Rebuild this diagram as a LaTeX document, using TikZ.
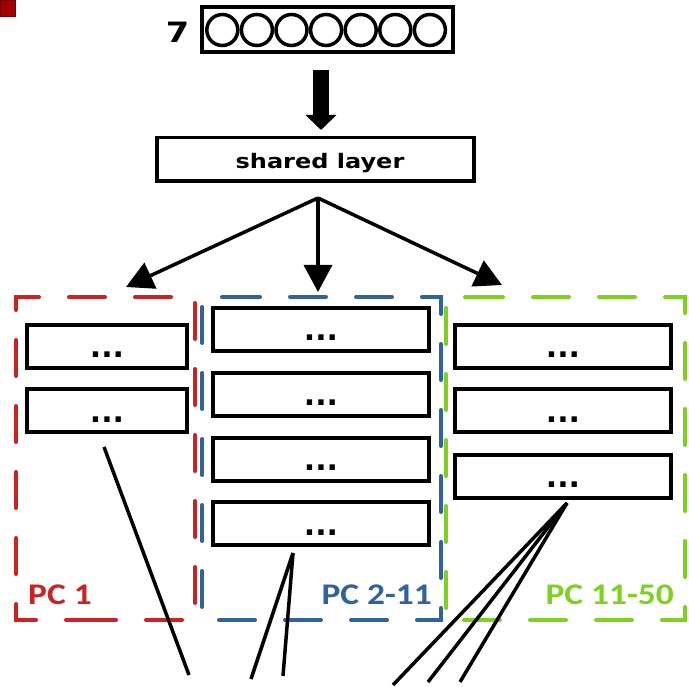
\documentclass[tikz,border=0pt]{standalone}
\usepackage{fontspec}
\usetikzlibrary{arrows.meta}
\newfontfamily\dvfont[FakeStretch=1.2]{DejaVu Sans}
\newfontfamily\dotfont{DejaVu Sans}
\newfontfamily\pcfont[FakeStretch=1.18]{Carlito}
\definecolor{pcred}{RGB}{204,34,34}
\definecolor{pcblue}{RGB}{46,99,158}
\definecolor{pcgreen}{RGB}{125,210,30}
\definecolor{sqred}{RGB}{165,0,0}
\begin{document}
\begin{tikzpicture}[x=1pt,y=-1pt,
  box/.style={draw, line width=4pt, inner sep=0pt, outer sep=0pt,
    font=\dotfont\bfseries\fontsize{30}{30}\selectfont, text height=23pt, text depth=0pt},
  smallbox/.style={box, minimum width=160pt, minimum height=43pt},
  widebox/.style={box, minimum width=216pt, minimum height=43pt},
  grp/.style={line width=4pt, line cap=round, dash pattern=on 36pt off 30pt},
  conn/.style={line width=3.5pt, -{Triangle[length=27pt,width=28pt]}},
  wire/.style={line width=3.5pt},
  pclabel/.style={font=\pcfont\bfseries\fontsize{30}{30}\selectfont, inner sep=0pt},
  unit/.style={draw, circle, line width=3.5pt, minimum size=31pt, inner sep=0pt, outer sep=0pt},
]
\useasboundingbox (0,0) rectangle (689,687);

% corner square
\node[fill=sqred, draw=sqred!75!black, line width=0.6pt, minimum width=15pt,
  minimum height=16pt, inner sep=0pt, outer sep=0pt] (sq) at (8,8.5) {};

% input
\node[font=\dvfont\bfseries\fontsize{28}{28}\selectfont, inner sep=0pt] (n7) at (177.5,32.5) {7};
\node[draw, line width=4pt, minimum width=251pt, minimum height=45pt, inner sep=0pt, outer sep=0pt] (in) at (327.5,29.5) {};
\foreach \i in {0,...,6} \node[unit] (c\i) at ({222.3+34.6*\i},30) {};

% big arrow
\coordinate (ba0) at (321,70);
\coordinate (ba1) at (321,130);
\draw[line width=16pt, -{Triangle[length=15pt,width=30pt]}] (ba0) -- (ba1);

% shared layer
\node[draw, line width=3.5pt, minimum width=317pt, minimum height=43.5pt, inner sep=0pt, outer sep=0pt,
  font=\dvfont\bfseries\fontsize{20}{20}\selectfont, text height=19pt, text depth=0pt]
  (sh) at (315.5,159.5) {\hspace*{9pt}shared layer};

% split arrows
\coordinate (split) at (318,198);
\coordinate (tl) at (126,287);
\coordinate (tm) at (318,292);
\coordinate (tr) at (502,285);
\draw[conn] (split) -- (tl);
\draw[conn] (split) -- (tm);
\draw[conn] (split) -- (tr);

% group outlines
\draw[grp, pcred] (102,620) -- (16,620) -- (16,297) -- (195,297) -- (195,620) -- cycle;
\draw[grp, pcblue] (224,297) -- (441,297) -- (441,620) -- (202,620) -- (202,297) -- cycle;
\draw[grp, pcgreen] (467,297) -- (685,297) -- (685,620) -- (446,620) -- (446,297) -- cycle;

% boxes
\node[smallbox] (r1) at (107,346.5) {...};
\node[smallbox] (r2) at (107,411) {...};
\node[widebox] (b1) at (321,329.5) {...};
\node[widebox] (b2) at (321,394.5) {...};
\node[widebox] (b3) at (321,459) {...};
\node[widebox] (b4) at (321,523.5) {...};
\node[widebox] (g1) at (563,346.5) {...};
\node[widebox] (g2) at (563,411) {...};
\node[widebox] (g3) at (563,476) {...};

% wires
\coordinate (w0) at (104,447);
\coordinate (w0a) at (189,675);
\coordinate (w1) at (293,553);
\coordinate (w1a) at (251,679);
\coordinate (w1b) at (283,676);
\coordinate (w2) at (567,503);
\coordinate (w2a) at (393,685);
\coordinate (w2b) at (428,682);
\coordinate (w2c) at (460,682);
\draw[wire] (w0) -- (w0a);
\draw[wire] (w1) -- (w1a);
\draw[wire] (w1) -- (w1b);
\draw[wire] (w2) -- (w2a);
\draw[wire] (w2) -- (w2b);
\draw[wire] (w2) -- (w2c);

% labels
\node[pclabel, text=pcred, anchor=base west] (l1) at (28,604) {PC 1};
\node[pclabel, text=pcblue, anchor=base east] (l2) at (432,604) {PC 2-11};
\node[pclabel, text=pcgreen, anchor=base east] (l3) at (674,604) {PC 11-50};
\end{tikzpicture}
\end{document}
